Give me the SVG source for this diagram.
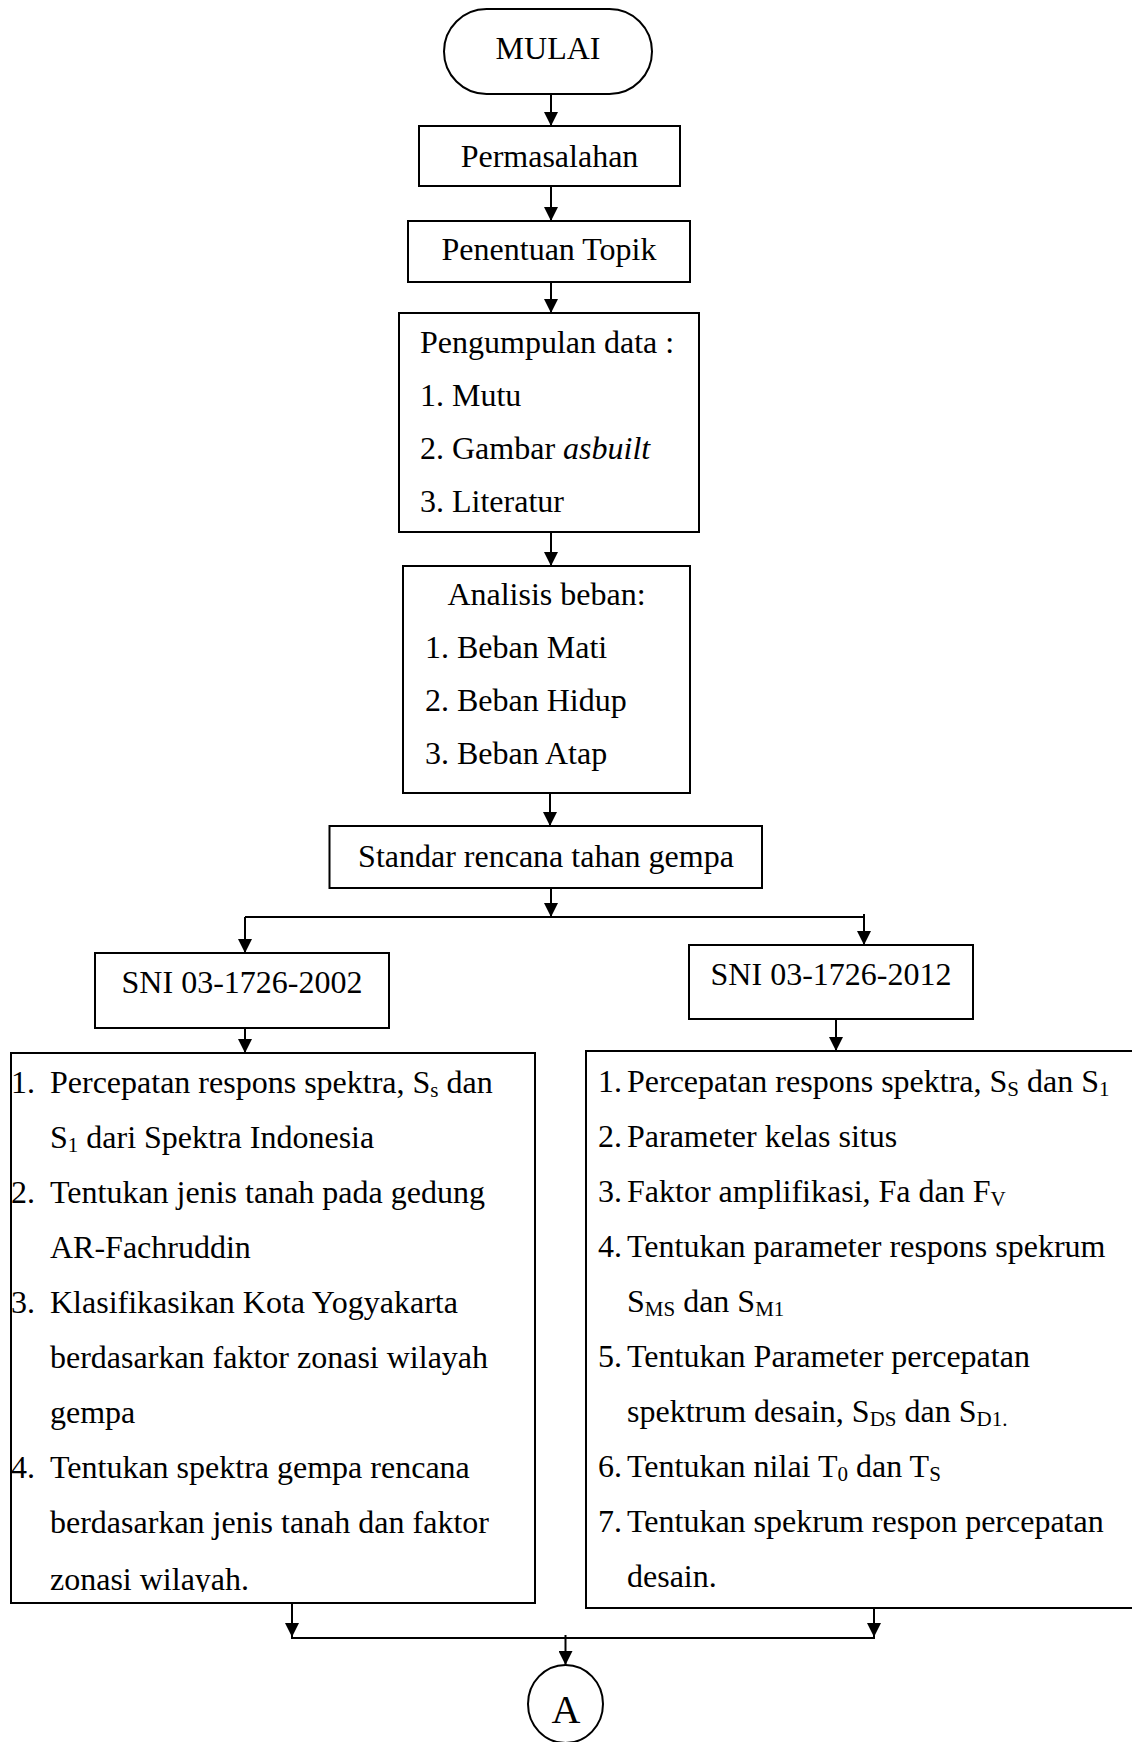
<svg xmlns="http://www.w3.org/2000/svg" width="1132" height="1742" viewBox="0 0 1132 1742">
<style>
.box{fill:#fff;stroke:#000;stroke-width:2}
.t{font-family:"Liberation Serif","Times New Roman",serif;font-size:32px;fill:#000}
.c{text-anchor:middle}
.s{font-size:21px}
.cn{fill:none;stroke:#000;stroke-width:2}
</style>
<defs>
<marker id="ah" markerUnits="userSpaceOnUse" markerWidth="14" markerHeight="14" refX="14" refY="7" orient="auto">
<path d="M0,0 L14,7 L0,14 z" fill="#000"/>
</marker>
<clipPath id="clipL"><rect x="0" y="1040" width="540" height="552"/></clipPath>
</defs>
<rect width="1132" height="1742" fill="#fff"/>

<g id="connectors" class="cn">
<path d="M551 94 V126" marker-end="url(#ah)"/>
<path d="M551 186 V221" marker-end="url(#ah)"/>
<path d="M551 282 V313" marker-end="url(#ah)"/>
<path d="M551 532 V566" marker-end="url(#ah)"/>
<path d="M550 793 V826" marker-end="url(#ah)"/>
<path d="M551 888 V917" marker-end="url(#ah)"/>
<path d="M245 917 H864"/>
<path d="M245 917 V953" marker-end="url(#ah)"/>
<path d="M864 914 V945" marker-end="url(#ah)"/>
<path d="M245 1028 V1053" marker-end="url(#ah)"/>
<path d="M836 1019 V1051" marker-end="url(#ah)"/>
<path d="M292 1603 V1637" marker-end="url(#ah)"/>
<path d="M874 1608 V1637" marker-end="url(#ah)"/>
<path d="M291 1638 H875"/>
<path d="M565.5 1635 V1665" marker-end="url(#ah)"/>
</g>

<g id="mulai">
<rect class="box" x="444" y="9" width="208" height="85" rx="42.5" ry="42.5"/>
<text class="t c" x="548" y="59">MULAI</text>
</g>

<g id="permasalahan">
<rect class="box" x="419" y="126" width="261" height="60"/>
<text class="t c" x="549.5" y="167">Permasalahan</text>
</g>

<g id="penentuan-topik">
<rect class="box" x="408" y="221" width="282" height="61"/>
<text class="t c" x="549" y="260">Penentuan Topik</text>
</g>

<g id="pengumpulan-data">
<rect class="box" x="399" y="313" width="300" height="219"/>
<text class="t" x="420" y="353">Pengumpulan data :</text>
<text class="t" x="420" y="406">1. Mutu</text>
<text class="t" x="420" y="459">2. Gambar <tspan font-style="italic">asbuilt</tspan></text>
<text class="t" x="420" y="512">3. Literatur</text>
</g>

<g id="analisis-beban">
<rect class="box" x="403" y="566" width="287" height="227"/>
<text class="t c" x="546.5" y="605">Analisis beban:</text>
<text class="t" x="425" y="658">1. Beban Mati</text>
<text class="t" x="425" y="711">2. Beban Hidup</text>
<text class="t" x="425" y="764">3. Beban Atap</text>
</g>

<g id="standar">
<rect class="box" x="329.5" y="826" width="432.5" height="62"/>
<text class="t c" x="546" y="867">Standar rencana tahan gempa</text>
</g>

<g id="sni-2002">
<rect class="box" x="95" y="953" width="294" height="75"/>
<text class="t c" x="242" y="993">SNI 03-1726-2002</text>
</g>

<g id="sni-2012">
<rect class="box" x="689" y="945" width="284" height="74"/>
<text class="t c" x="831" y="985">SNI 03-1726-2012</text>
</g>

<g id="list-2002">
<rect class="box" x="11" y="1053" width="524" height="550"/>
<g clip-path="url(#clipL)">
<text class="t" x="11" y="1093">1.</text>
<text class="t" x="50" y="1093">Percepatan respons spektra, S<tspan class="s" dy="4">s</tspan><tspan dy="-4"> dan</tspan></text>
<text class="t" x="50" y="1148">S<tspan class="s" dy="4">1</tspan><tspan dy="-4"> dari Spektra Indonesia</tspan></text>
<text class="t" x="11" y="1203">2.</text>
<text class="t" x="50" y="1203">Tentukan jenis tanah pada gedung</text>
<text class="t" x="50" y="1258">AR-Fachruddin</text>
<text class="t" x="11" y="1313">3.</text>
<text class="t" x="50" y="1313">Klasifikasikan Kota Yogyakarta</text>
<text class="t" x="50" y="1368">berdasarkan faktor zonasi wilayah</text>
<text class="t" x="50" y="1423">gempa</text>
<text class="t" x="11" y="1478">4.</text>
<text class="t" x="50" y="1478">Tentukan spektra gempa rencana</text>
<text class="t" x="50" y="1533">berdasarkan jenis tanah dan faktor</text>
<text class="t" x="50" y="1590">zonasi wilayah.</text>
</g>
</g>

<g id="list-2012">
<rect class="box" x="586" y="1051" width="560" height="557"/>
<text class="t" x="598" y="1092">1.</text>
<text class="t" x="627" y="1092">Percepatan respons spektra, S<tspan class="s" dy="4">S</tspan><tspan dy="-4"> dan S</tspan><tspan class="s" dy="4">1</tspan></text>
<text class="t" x="598" y="1147">2.</text>
<text class="t" x="627" y="1147">Parameter kelas situs</text>
<text class="t" x="598" y="1202">3.</text>
<text class="t" x="627" y="1202">Faktor amplifikasi, Fa dan F<tspan class="s" dy="4">V</tspan></text>
<text class="t" x="598" y="1257">4.</text>
<text class="t" x="627" y="1257">Tentukan parameter respons spekrum</text>
<text class="t" x="627" y="1312">S<tspan class="s" dy="4">MS</tspan><tspan dy="-4"> dan S</tspan><tspan class="s" dy="4">M1</tspan></text>
<text class="t" x="598" y="1367">5.</text>
<text class="t" x="627" y="1367">Tentukan Parameter percepatan</text>
<text class="t" x="627" y="1422">spektrum desain, S<tspan class="s" dy="4">DS</tspan><tspan dy="-4"> dan S</tspan><tspan class="s" dy="4">D1.</tspan></text>
<text class="t" x="598" y="1477">6.</text>
<text class="t" x="627" y="1477">Tentukan nilai T<tspan class="s" dy="4">0</tspan><tspan dy="-4"> dan T</tspan><tspan class="s" dy="4">S</tspan></text>
<text class="t" x="598" y="1532">7.</text>
<text class="t" x="627" y="1532">Tentukan spekrum respon percepatan</text>
<text class="t" x="627" y="1587">desain.</text>
</g>

<g id="connector-a">
<ellipse class="box" cx="565.5" cy="1704" rx="37.5" ry="39"/>
<text class="t c" x="566" y="1723" style="font-size:40px">A</text>
</g>
</svg>
